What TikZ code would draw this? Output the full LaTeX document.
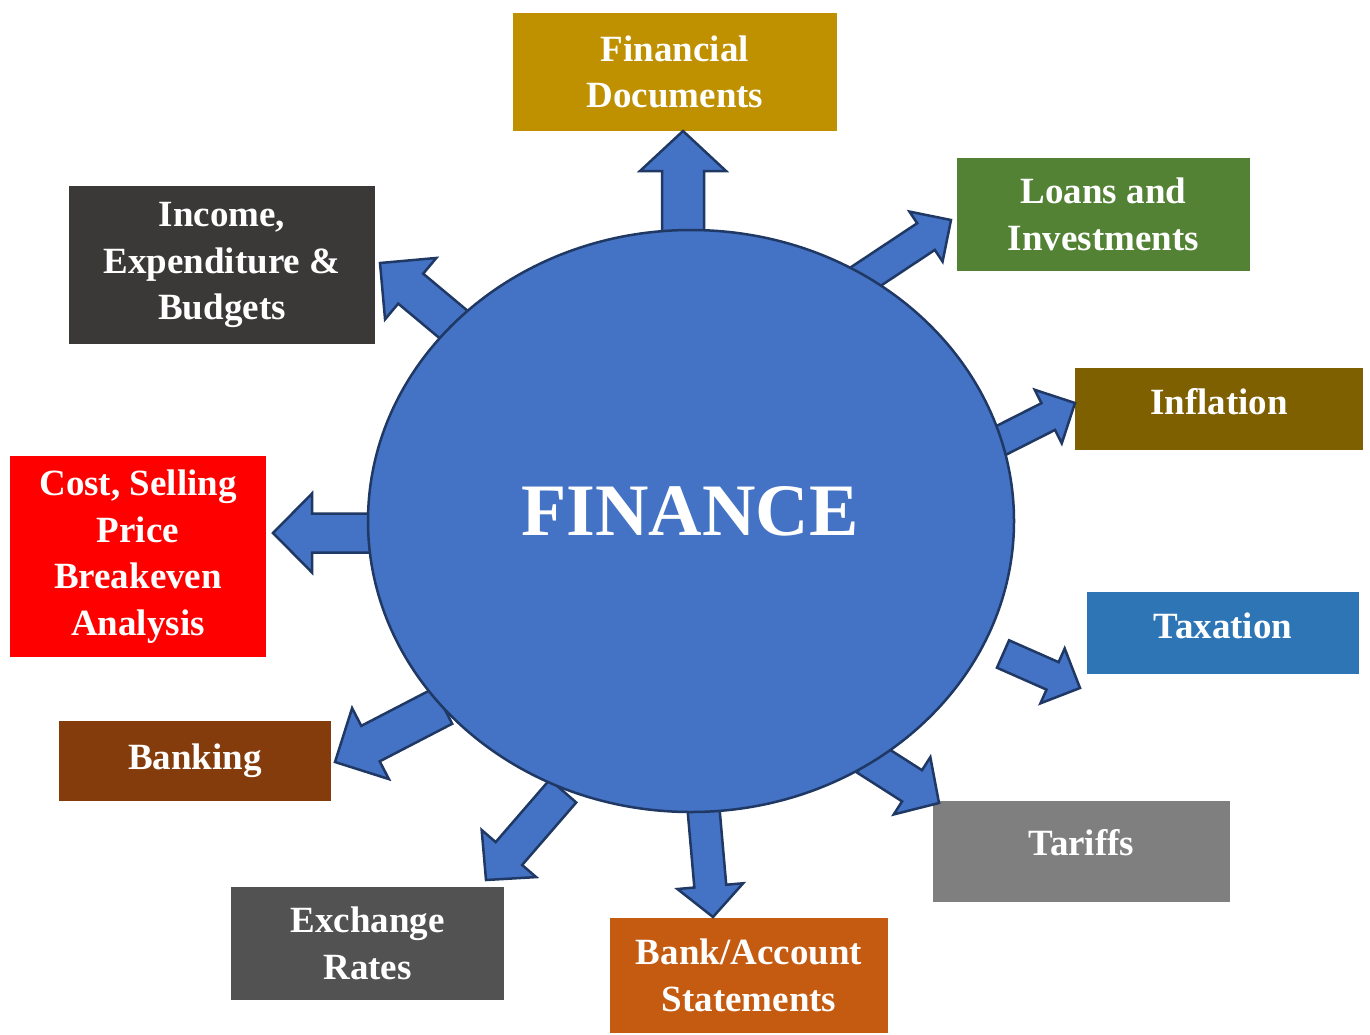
\documentclass[tikz,border=0pt]{standalone}
\usepackage{fontspec}
\setmainfont{Liberation Serif}
\usepackage{tikz}
\usetikzlibrary{calc,shapes.geometric}

\definecolor{arrowblue}{HTML}{4472C4}
\definecolor{darkline}{HTML}{1F3864}
\definecolor{gold}{HTML}{BF9000}
\definecolor{leaf}{HTML}{548235}
\definecolor{olivebrown}{HTML}{7F6000}
\definecolor{steel}{HTML}{2E75B6}
\definecolor{midgrey}{HTML}{7F7F7F}
\definecolor{rust}{HTML}{C55A11}
\definecolor{slate}{HTML}{525252}
\definecolor{chestnut}{HTML}{843C0C}
\definecolor{charcoal}{HTML}{3B3838}

\tikzset{
  box/.style={rectangle, inner sep=0pt, text=white, align=center,
    font=\bfseries\fontsize{37}{46.5}\selectfont},
  blockarrow/.style n args={3}{fill=arrowblue, draw=darkline, line width=2.5pt, line join=miter,
    to path={let \p1=(\tikztostart), \p2=(\tikztotarget), \p3=($(\p2)!#3pt!(\p1)$) in
      -- ($(\p1)!#1pt!-90:(\p2)$) -- ($(\p3)!#1pt!-90:(\p2)$) -- ($(\p3)!#2pt!-90:(\p2)$)
      -- (\p2)
      -- ($(\p3)!#2pt!90:(\p2)$) -- ($(\p3)!#1pt!90:(\p2)$) -- ($(\p1)!#1pt!90:(\p2)$) -- cycle}}
}

\begin{document}
\begin{tikzpicture}[x=1pt,y=1pt]
\useasboundingbox (0,0) rectangle (1370,-1034);

% boxes round the circle
\node[box, fill=gold, minimum width=324pt, minimum height=118pt] (docs) at (675,-72) {Financial\\Documents};
\node[box, fill=leaf, minimum width=293pt, minimum height=113pt] (loans) at (1103.5,-214.5) {Loans and\\Investments};
\node[box, fill=olivebrown, minimum width=288pt, minimum height=82pt, text depth=16pt] (infl) at (1219,-409) {Inflation};
\node[box, fill=steel, minimum width=272pt, minimum height=82pt, text depth=14pt] (tax) at (1223,-633) {Taxation};
\node[box, fill=midgrey, minimum width=297pt, minimum height=101pt, text depth=18pt] (tariffs) at (1081.5,-851.5) {Tariffs};
\node[box, fill=rust, minimum width=278pt, minimum height=115pt] (stmts) at (749,-975.5) {Bank/Account\\Statements};
\node[box, fill=slate, minimum width=273pt, minimum height=113pt] (exch) at (367.5,-943.5) {Exchange\\Rates};
\node[box, fill=chestnut, minimum width=272pt, minimum height=80pt] (banking) at (195,-761) {Banking};
\node[box, fill=red, minimum width=256pt, minimum height=201pt] (cost) at (138,-556.5) {Cost, Selling\\Price\\Breakeven\\Analysis};
\node[box, fill=charcoal, minimum width=306pt, minimum height=158pt] (income) at (222,-265) {Income,\\Expenditure \&\\Budgets};

% arrow tails on the circle, heads at the boxes
\coordinate (t1) at (683,-240);  \coordinate (h1) at (683,-131);
\coordinate (t2) at (859,-281);  \coordinate (h2) at (951,-220);
\coordinate (t3) at (994,-444);  \coordinate (h3) at (1075,-403);
\coordinate (t4) at (1003,-654); \coordinate (h4) at (1080,-688);
\coordinate (t5) at (867,-757);  \coordinate (h5) at (939,-803);
\coordinate (t6) at (703,-803);  \coordinate (h6) at (713,-917);
\coordinate (t7) at (563,-791);  \coordinate (h7) at (486,-880);
\coordinate (t8) at (443,-706);  \coordinate (h8) at (335,-762);
\coordinate (t9) at (375,-533);  \coordinate (h9) at (273,-533);
\coordinate (t10) at (459,-329); \coordinate (h10) at (380,-263);

\foreach \from/\to/\sw/\hw/\hl in
{t1/h1/21/43/40, t2/h2/16/30/30, t3/h3/15/30/30, t4/h4/15/30/30, t5/h5/18.5/34/32,
 t6/h6/16/33/31, t7/h7/17.5/36/35, t8/h8/20/40/40, t9/h9/19.5/39.5/39, t10/h10/19.5/40/40}
\draw[blockarrow={\sw}{\hw}{\hl}] (\from) to (\to);

\node[ellipse, draw=darkline, fill=arrowblue, line width=2.5pt, minimum width=646pt, minimum height=582pt, inner sep=0pt] (fin) at (691,-521) {};
\node[text=white, font=\bfseries\fontsize{74}{80}\selectfont] (title) at (690,-511) {FINANCE};
\end{tikzpicture}
\end{document}
